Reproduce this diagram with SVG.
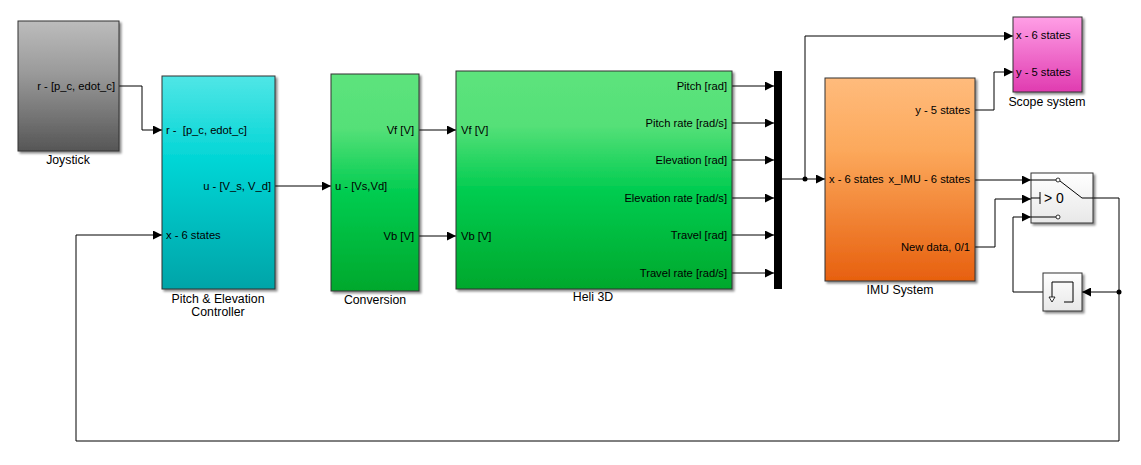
<svg xmlns="http://www.w3.org/2000/svg" width="1141" height="465" viewBox="0 0 1141 465">
<style>
text{font-family:"Liberation Sans",Arial,Helvetica,sans-serif;font-size:11.2px;fill:#000}
.lbl{font-size:12.3px}
.r{text-anchor:end}
.m{text-anchor:middle}
.blk{stroke:#333;stroke-width:1}
.wire{fill:none;stroke:#000;stroke-width:1}
.arr{fill:none;stroke:#000;stroke-width:1;marker-end:url(#ah)}
.sym{fill:none;stroke:#000;stroke-width:1}
</style>
<defs>
<marker id="ah" markerUnits="userSpaceOnUse" markerWidth="9" markerHeight="9" refX="9" refY="4.5" orient="auto">
<path d="M0,0 L9,4.5 L0,9 z" fill="#000"/>
</marker>
<filter id="sh" x="-10%" y="-10%" width="130%" height="130%">
<feDropShadow dx="2" dy="2" stdDeviation="1.2" flood-color="#000" flood-opacity="0.45"/>
</filter>
<linearGradient id="gJoy" x1="0" y1="0" x2="0" y2="1">
<stop offset="0" stop-color="#bcbcbc"/><stop offset="0.4" stop-color="#9a9a9a"/><stop offset="1" stop-color="#565656"/>
</linearGradient>
<linearGradient id="gCyan" x1="0" y1="0" x2="0" y2="1">
<stop offset="0" stop-color="#50e6e6"/><stop offset="0.4" stop-color="#00d5d5"/><stop offset="1" stop-color="#00a4a8"/>
</linearGradient>
<linearGradient id="gGreen" x1="0" y1="0" x2="0" y2="1">
<stop offset="0" stop-color="#5de37c"/><stop offset="0.25" stop-color="#55e078"/><stop offset="0.55" stop-color="#00cc50"/><stop offset="1" stop-color="#00a82c"/>
</linearGradient>
<linearGradient id="gOrange" x1="0" y1="0" x2="0" y2="1">
<stop offset="0" stop-color="#ffbb7c"/><stop offset="0.35" stop-color="#fca95c"/><stop offset="1" stop-color="#e7600f"/>
</linearGradient>
<linearGradient id="gPink" x1="0" y1="0" x2="0" y2="1">
<stop offset="0" stop-color="#ff9fe6"/><stop offset="1" stop-color="#e03bb0"/>
</linearGradient>
<linearGradient id="gGray" x1="0" y1="0" x2="0" y2="1">
<stop offset="0" stop-color="#ffffff"/><stop offset="1" stop-color="#e8e8e8"/>
</linearGradient>
</defs>
<rect width="1141" height="465" fill="#fff"/>

<g id="connectors">
<polyline class="arr" points="119,86 142,86 142,130 162,130"/>
<polyline class="arr" points="275,186 331,186"/>
<polyline class="arr" points="419,130 456,130"/>
<polyline class="arr" points="419,236 456,236"/>
<polyline class="arr" points="732,86 774,86"/>
<polyline class="arr" points="732,123 774,123"/>
<polyline class="arr" points="732,160 774,160"/>
<polyline class="arr" points="732,198 774,198"/>
<polyline class="arr" points="732,235 774,235"/>
<polyline class="arr" points="732,273 774,273"/>
<polyline class="arr" points="782,179 825,179"/>
<polyline class="arr" points="805,179 805,36 1013,36"/>
<circle cx="805" cy="179" r="2.5" fill="#000"/>
<polyline class="arr" points="975,110 994,110 994,72 1013,72"/>
<polyline class="arr" points="975,180 1031,180"/>
<polyline class="arr" points="975,247 995,247 995,199 1031,199"/>
<polyline class="wire" points="1093,198 1119,198 1119,441 76,441 76,235"/>
<polyline class="arr" points="76,235 162,235"/>
<polyline class="arr" points="1119,292 1082,292"/>
<circle cx="1119" cy="292" r="2.5" fill="#000"/>
<polyline class="arr" points="1043,292 1013,292 1013,217 1031,217"/>
</g>

<g id="joystick">
<rect class="blk" x="18" y="21" width="101" height="130" fill="url(#gJoy)" filter="url(#sh)"/>
<text class="r" x="115" y="90">r - [p_c, edot_c]</text>
<text class="m lbl" x="68" y="164">Joystick</text>
</g>

<g id="controller">
<rect class="blk" x="162" y="76" width="113" height="213" fill="url(#gCyan)" filter="url(#sh)"/>
<text x="166" y="134" xml:space="preserve">r -  [p_c, edot_c]</text>
<text class="r" x="271" y="190">u - [V_s, V_d]</text>
<text x="166" y="239">x - 6 states</text>
<text class="m lbl" x="218" y="303">Pitch &amp; Elevation</text>
<text class="m lbl" x="218" y="316">Controller</text>
</g>

<g id="conversion">
<rect class="blk" x="331" y="74" width="88" height="217" fill="url(#gGreen)" filter="url(#sh)"/>
<text class="r" x="414" y="134">Vf [V]</text>
<text x="335" y="190">u - [Vs,Vd]</text>
<text class="r" x="414" y="240">Vb [V]</text>
<text class="m lbl" x="375" y="304">Conversion</text>
</g>

<g id="heli3d">
<rect class="blk" x="456" y="71" width="276" height="218" fill="url(#gGreen)" filter="url(#sh)"/>
<text x="461" y="134">Vf [V]</text>
<text x="461" y="240">Vb [V]</text>
<text class="r" x="727" y="90">Pitch [rad]</text>
<text class="r" x="727" y="127">Pitch rate [rad/s]</text>
<text class="r" x="727" y="164">Elevation [rad]</text>
<text class="r" x="727" y="202">Elevation rate [rad/s]</text>
<text class="r" x="727" y="239">Travel [rad]</text>
<text class="r" x="727" y="277">Travel rate [rad/s]</text>
<text class="m lbl" x="593" y="301">Heli 3D</text>
</g>

<g id="mux">
<rect x="774" y="71" width="8" height="218" fill="#000"/>
</g>

<g id="imu">
<rect class="blk" x="825" y="78" width="150" height="203" fill="url(#gOrange)" filter="url(#sh)"/>
<text class="r" x="970" y="114">y - 5 states</text>
<text x="829" y="183">x - 6 states</text>
<text class="r" x="970" y="183">x_IMU - 6 states</text>
<text class="r" x="970" y="251">New data, 0/1</text>
<text class="m lbl" x="900" y="294">IMU System</text>
</g>

<g id="scope">
<rect class="blk" x="1013" y="17" width="69" height="75" fill="url(#gPink)" filter="url(#sh)"/>
<text x="1016" y="39">x - 6 states</text>
<text x="1016" y="76">y - 5 states</text>
<text class="m lbl" x="1047" y="106">Scope system</text>
</g>

<g id="switch">
<rect class="blk" x="1031" y="173" width="62" height="50" fill="url(#gGray)" filter="url(#sh)"/>
<line class="sym" x1="1031" y1="180" x2="1056" y2="180"/>
<circle cx="1058" cy="180" r="2" fill="#fff" stroke="#000" stroke-width="0.8"/>
<line class="sym" x1="1031" y1="217" x2="1056" y2="217"/>
<circle cx="1058" cy="217" r="2" fill="#fff" stroke="#000" stroke-width="0.8"/>
<line class="sym" x1="1031" y1="198" x2="1040" y2="198"/>
<line class="sym" x1="1040" y1="192" x2="1040" y2="204"/>
<text x="1044" y="203" style="font-size:14px">&gt; 0</text>
<polyline class="sym" points="1060,181 1082,198 1093,198"/>
</g>

<g id="memory">
<rect class="blk" x="1043" y="273" width="39" height="38" fill="url(#gGray)" filter="url(#sh)"/>
<polyline class="sym" points="1052,297 1052,282 1073,282 1073,302 1064,302"/>
<path d="M1049,297 L1055,297 L1052,302 z" fill="#fff" stroke="#000" stroke-width="0.8"/>
</g>
</svg>
